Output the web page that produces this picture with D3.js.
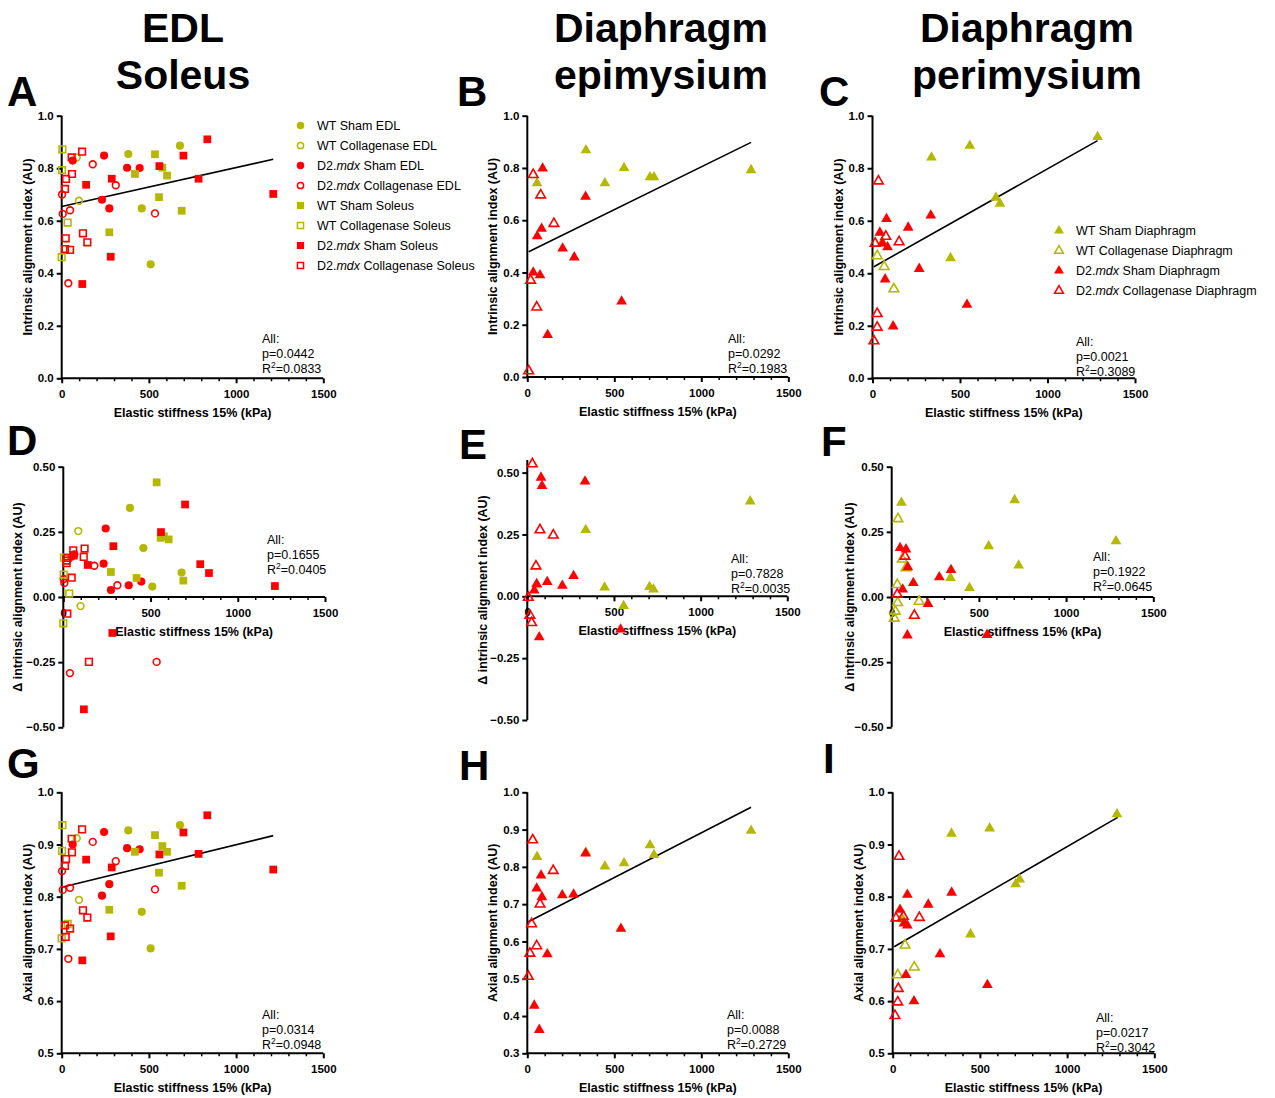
<!DOCTYPE html>
<html lang="en">
<head>
<meta charset="UTF-8">
<title>Elastic stiffness vs alignment</title>
<script src="https://cdn.jsdelivr.net/npm/d3@7.9.0/dist/d3.min.js"></script>
<style>
  html, body { margin: 0; padding: 0; background: #fff; }
  svg { display: block; font-family: Arial, "Liberation Sans", Helvetica, sans-serif; }
</style>
</head>
<body>
<svg id="chart" width="1275" height="1098"></svg>
<script>
// ---- data: [stiffness kPa, index] ----
// EDL / Soleus, intrinsic alignment (A)
const A_wtShamEDL = [[382,.854],[459,.647],[510,.434],[678,.886]];
const A_wtColEDL = [[86,.841],[99,.676]];
const A_mdxShamEDL = [[63,.829],[231,.680],[243,.848],[273,.647],[375,.802],[447,.801]];
const A_mdxColEDL = [[2,.700],[6,.626],[38,.362],[48,.640],[178,.815],[310,.735],[535,.628]];
const A_wtShamSol = [[273,.556],[420,.778],[535,.853],[558,.690],[577,.802],[604,.772],[688,.638]];
const A_wtColSol = [[0,.461],[2,.793],[4,.872],[34,.593]];
const A_mdxShamSol = [[118,.359],[140,.737],[281,.463],[287,.760],[560,.808],[698,.848],[785,.760],[835,.910],[1213,.702]];
const A_mdxColSol = [[19,.721],[19,.492],[23,.533],[25,.759],[48,.489],[57,.841],[59,.778],[117,.863],[122,.552],[147,.518]];
// delta intrinsic alignment (D)
const D_wtShamEDL = [[382,.342],[459,.188],[510,.04],[678,.094]];
const D_wtColEDL = [[86,.253],[99,-.035]];
const D_mdxShamEDL = [[63,.164],[231,.128],[243,.263],[273,.027],[375,.045],[447,.059]];
const D_mdxColEDL = [[2,.069],[6,.054],[38,-.292],[48,.155],[178,.120],[310,.045],[535,-.249]];
const D_wtShamSol = [[273,.096],[420,.073],[535,.44],[558,.227],[577,.233],[604,.221],[688,.063]];
const D_wtColSol = [[0,-.101],[2,.086],[4,.151],[34,.013]];
const D_mdxShamSol = [[118,-.431],[140,.123],[281,-.138],[287,.195],[560,.249],[698,.355],[785,.126],[835,.092],[1213,.042]];
const D_mdxColSol = [[19,.14],[19,.13],[23,-.064],[25,.15],[48,.074],[57,.179],[59,.16],[117,.154],[122,.186],[147,-.249]];
// axial alignment (G)
const G_wtShamEDL = [[382,.927],[459,.771],[510,.701],[678,.937]];
const G_wtColEDL = [[86,.912],[99,.794]];
const G_mdxShamEDL = [[63,.90],[231,.802],[243,.924],[273,.824],[375,.893],[447,.891]];
const G_mdxColEDL = [[2,.849],[6,.813],[38,.681],[48,.817],[178,.905],[310,.868],[535,.814]];
const G_wtShamSol = [[273,.775],[420,.886],[535,.918],[558,.846],[577,.897],[604,.886],[688,.821]];
const G_wtColSol = [[0,.72],[2,.888],[4,.937],[34,.748]];
const G_mdxShamSol = [[118,.678],[140,.871],[281,.724],[287,.856],[560,.881],[698,.923],[785,.882],[835,.956],[1213,.852]];
const G_mdxColSol = [[19,.859],[19,.745],[23,.723],[25,.872],[48,.739],[57,.911],[59,.885],[117,.929],[122,.774],[147,.760]];

// Diaphragm epimysium (B, E, H) and perimysium (C, F, I)
const B_wtSham = [[56,.742],[337,.868],[446,.742],[556,.80],[705,.765],[728,.765],[1286,.792]];
const B_mdxSham = [[34,.40],[57,.539],[73,.39],[82,.568],[88,.798],[117,.161],[203,.492],[270,.458],[335,.69],[542,.289]];
const B_mdxCol = [[8,.023],[19,.37],[34,.774],[54,.267],[77,.696],[153,.587]];
const C_wtSham = [[56,.518],[337,.841],[446,.458],[556,.886],[705,.688],[728,.665],[1286,.919]];
const C_wtCol = [[27,.466],[67,.425],[122,.340]];
const C_mdxSham = [[42,.555],[57,.514],[72,.377],[86,.499],[80,.607],[118,.198],[204,.574],[267,.417],[333,.62],[540,.28]];
const C_mdxCol = [[8,.142],[15,.514],[27,.246],[27,.194],[34,.751],[76,.540],[152,.519]];
const E_wtSham = [[56,.045],[337,.268],[446,.036],[556,-.039],[705,.038],[728,.028],[1286,.384]];
const E_mdxSham = [[40,.024],[54,.05],[69,-.165],[79,.48],[85,.446],[115,.058],[202,.043],[267,.082],[333,.464],[538,-.134]];
const E_mdxCol = [[6,-.005],[15,-.077],[25,-.107],[29,.535],[50,.122],[73,.268],[150,.247]];
const F_wtSham = [[56,.362],[337,.073],[446,.035],[556,.195],[705,.372],[728,.121],[1286,.214]];
const F_wtCol = [[15,-.082],[21,-.055],[32,.047],[34,-.022],[36,.30],[61,.145],[82,.112],[157,-.017]];
const F_mdxSham = [[48,.188],[63,.029],[82,.183],[90,-.147],[92,.115],[124,.054],[208,-.026],[273,.076],[340,.104],[547,-.145]];
const F_mdxCol = [[32,.010],[76,.156],[130,-.071]];
const H_wtSham = [[56,.827],[337,.839],[446,.801],[556,.810],[705,.858],[728,.832],[1286,.897]];
const H_mdxSham = [[40,.428],[54,.742],[69,.363],[79,.777],[84,.719],[115,.566],[201,.724],[266,.726],[335,.836],[538,.634]];
const H_mdxCol = [[6,.506],[15,.568],[25,.647],[31,.872],[54,.588],[73,.700],[149,.790]];
const I_wtSham = [[56,.757],[337,.921],[446,.728],[556,.931],[705,.824],[728,.833],[1286,.958]];
const I_wtCol = [[29,.650],[71,.707],[124,.665]];
const I_mdxSham = [[42,.775],[65,.749],[76,.65],[84,.804],[84,.745],[122,.60],[204,.785],[271,.69],[338,.808],[543,.631]];
const I_mdxCol = [[13,.572],[19,.759],[29,.598],[32,.624],[36,.877],[61,.762],[153,.760]];

// regression lines (end points)
const fitA = [[0,.654],[1213,.834]];
const fitB = [[8,.479],[1286,.898]];
const fitC = [[8,.425],[1286,.905]];
const fitG = [[0,.818],[1213,.917]];
const fitH = [[6,.653],[1286,.96]];
const fitI = [[8,.704],[1290,.952]];

// p and R2 per panel
const statsP = {A:'0.0442', B:'0.0292', C:'0.0021', D:'0.1655', E:'0.7828', F:'0.1922', G:'0.0314', H:'0.0088', I:'0.0217'};
const statsR2 = {A:'0.0833', B:'0.1983', C:'0.3089', D:'0.0405', E:'0.0035', F:'0.0645', G:'0.0948', H:'0.2729', I:'0.3042'};

const xMajor = [0, 500, 1000, 1500];
const xMinor = d3.range(100, 1500, 100).filter(v => v % 500 !== 0);
const ticksIntrinsic = [0, .2, .4, .6, .8, 1];
const ticksDelta = [-.5, -.25, 0, .25, .5];
const ticksAxialG = [.5, .6, .7, .8, .9, 1];
const ticksAxialH = [.3, .4, .5, .6, .7, .8, .9, 1];

const columnTitles = [['EDL', 'Soleus'], ['Diaphragm', 'epimysium'], ['Diaphragm', 'perimysium']];
const legendEDL = ['WT Sham EDL', 'WT Collagenase EDL', 'D2.mdx Sham EDL', 'D2.mdx Collagenase EDL',
  'WT Sham Soleus', 'WT Collagenase Soleus', 'D2.mdx Sham Soleus', 'D2.mdx Collagenase Soleus'];
const legendDia = ['WT Sham Diaphragm', 'WT Collagenase Diaphragm', 'D2.mdx Sham Diaphragm', 'D2.mdx Collagenase Diaphragm'];

// ---- styles ----
const OLIVE = '#b5b800';
const RED = '#ff0000';
const styles = {
  wtShamEDL:  {shape: d3.symbolCircle, fill: true, color: OLIVE},
  wtColEDL:   {shape: d3.symbolCircle, fill: false, color: OLIVE},
  mdxShamEDL: {shape: d3.symbolCircle, fill: true, color: RED},
  mdxColEDL:  {shape: d3.symbolCircle, fill: false, color: RED},
  wtShamSol:  {shape: d3.symbolSquare, fill: true, color: OLIVE},
  wtColSol:   {shape: d3.symbolSquare, fill: false, color: OLIVE},
  mdxShamSol: {shape: d3.symbolSquare, fill: true, color: RED},
  mdxColSol:  {shape: d3.symbolSquare, fill: false, color: RED},
  wtSham:     {shape: d3.symbolTriangle, fill: true, color: OLIVE},
  wtCol:      {shape: d3.symbolTriangle, fill: false, color: OLIVE},
  mdxSham:    {shape: d3.symbolTriangle, fill: true, color: RED},
  mdxCol:     {shape: d3.symbolTriangle, fill: false, color: RED}
};
const edlKeys = ['wtShamEDL','wtColEDL','mdxShamEDL','mdxColEDL','wtShamSol','wtColSol','mdxShamSol','mdxColSol'];
const diaKeys = ['wtSham','wtCol','mdxSham','mdxCol'];

const symbolSize = (st) => {
  if (st.shape === d3.symbolCircle) return st.fill ? 52 : 36;
  if (st.shape === d3.symbolSquare) return st.fill ? 60 : 44;
  return st.fill ? 50 : 40;
};

// ---- panel layout ----
const fmt1 = d3.format('.1f'), fmt2 = d3.format('.2f'), fmtX = d3.format('d');
const yIntr = 'Intrinsic alignment index (AU)';
const yDelta = '\u0394 intrinsic alignment index (AU)';
const yAxial = 'Axial alignment index (AU)';

const panels = [
  {key:'A', x0:61.7, x1:323.3, yTop:115.7, yBot:378.3, dom:[0,1], ticks:ticksIntrinsic, fmt:fmt1, ylab:yIntr, lab:34, lx:7, ly:106,
   series:[A_wtShamEDL,A_wtColEDL,A_mdxShamEDL,A_mdxColEDL,A_wtShamSol,A_wtColSol,A_mdxShamSol,A_mdxColSol], keys:edlKeys, fit:fitA, sx:262, sy:343},
  {key:'B', x0:527.3, x1:788.3, yTop:115.7, yBot:377, dom:[0,1], ticks:ticksIntrinsic, fmt:fmt1, ylab:yIntr, lab:34, lx:457, ly:106,
   series:[B_wtSham,null,B_mdxSham,B_mdxCol], keys:diaKeys, fit:fitB, sx:728, sy:343},
  {key:'C', x0:872.5, x1:1135, yTop:115.7, yBot:378.3, dom:[0,1], ticks:ticksIntrinsic, fmt:fmt1, ylab:yIntr, lab:34, lx:819, ly:106,
   series:[C_wtSham,C_wtCol,C_mdxSham,C_mdxCol], keys:diaKeys, fit:fitC, sx:1076, sy:346},
  {key:'D', x0:63.3, x1:325, yTop:466.7, yBot:727.3, dom:[-.5,.5], ticks:ticksDelta, fmt:fmt2, ylab:yDelta, lab:45, lx:7, ly:455,
   series:[D_wtShamEDL,D_wtColEDL,D_mdxShamEDL,D_mdxColEDL,D_wtShamSol,D_wtColSol,D_mdxShamSol,D_mdxColSol], keys:edlKeys, fit:null, sx:267, sy:544},
  {key:'E', x0:527.3, x1:787.3, yTop:460, yBot:720, dom:[-.5,.551], ticks:ticksDelta, fmt:fmt2, ylab:yDelta, lab:44, lx:459, ly:459,
   series:[E_wtSham,null,E_mdxSham,E_mdxCol], keys:diaKeys, fit:null, sx:731, sy:563},
  {key:'F', x0:891.7, x1:1153.3, yTop:466.7, yBot:727.3, dom:[-.5,.5], ticks:ticksDelta, fmt:fmt2, ylab:yDelta, lab:42, lx:821, ly:456,
   series:[F_wtSham,F_wtCol,F_mdxSham,F_mdxCol], keys:diaKeys, fit:null, sx:1093, sy:561},
  {key:'G', x0:61.7, x1:323.3, yTop:792.3, yBot:1053.3, dom:[.5,1], ticks:ticksAxialG, fmt:fmt1, ylab:yAxial, lab:34, lx:7, ly:778,
   series:[G_wtShamEDL,G_wtColEDL,G_mdxShamEDL,G_mdxColEDL,G_wtShamSol,G_wtColSol,G_mdxShamSol,G_mdxColSol], keys:edlKeys, fit:fitG, sx:262, sy:1019},
  {key:'H', x0:527.3, x1:788.3, yTop:792.3, yBot:1053.3, dom:[.3,1], ticks:ticksAxialH, fmt:fmt1, ylab:yAxial, lab:34, lx:459, ly:780,
   series:[H_wtSham,null,H_mdxSham,H_mdxCol], keys:diaKeys, fit:fitH, sx:727, sy:1019},
  {key:'I', x0:892.7, x1:1154.3, yTop:792.3, yBot:1053.3, dom:[.5,1], ticks:ticksAxialG, fmt:fmt1, ylab:yAxial, lab:34, lx:823, ly:773,
   series:[I_wtSham,I_wtCol,I_mdxSham,I_mdxCol], keys:diaKeys, fit:fitI, sx:1096, sy:1022}
];

const svg = d3.select('#chart');
svg.append('rect').attr('width', 1275).attr('height', 1098).attr('fill', '#fff');

// column titles
const titleX = [183, 661, 1027];
columnTitles.forEach((lines, i) => {
  lines.forEach((t, j) => {
    svg.append('text').attr('x', titleX[i]).attr('y', 42 + j * 47)
      .attr('text-anchor', 'middle').attr('font-size', 41).attr('font-weight', 'bold')
      .text(t);
  });
});

// label text with italic "mdx"
function richLabel(sel, label) {
  const parts = label.split('mdx');
  sel.append('tspan').text(parts[0]);
  if (parts.length > 1) {
    sel.append('tspan').attr('font-style', 'italic').text('mdx');
    sel.append('tspan').text(parts[1]);
  }
}

function styleAxis(g, w) {
  g.select('.domain').attr('stroke', '#000').attr('stroke-width', w);
  g.selectAll('.tick line').attr('stroke', '#000').attr('stroke-width', w);
  g.selectAll('.tick text').attr('fill', '#000').attr('font-size', 11.5).attr('font-weight', 'bold')
    .attr('font-family', 'Arial, "Liberation Sans", sans-serif');
}

panels.forEach(p => {
  const g = svg.append('g').attr('class', 'panel-' + p.key);
  const x = d3.scaleLinear().domain([0, 1500]).range([p.x0, p.x1]);
  const y = d3.scaleLinear().domain(p.dom).range([p.yBot, p.yTop]);
  const xAxisY = p.dom[0] < 0 ? y(0) : p.yBot;

  // panel letter
  svg.append('text').attr('x', p.lx).attr('y', p.ly).attr('font-size', 42)
    .attr('font-weight', 'bold').text(p.key);

  // y axis
  const ya = g.append('g').attr('transform', `translate(${p.x0},0)`)
    .call(d3.axisLeft(y).tickValues(p.ticks).tickFormat(p.fmt).tickSize(5).tickPadding(3).tickSizeOuter(0));
  styleAxis(ya, 2);
  ya.select('.domain').attr('d', `M0,${p.yBot}V${p.yTop}`);

  // x axis: minor then major ticks
  const xm = g.append('g').attr('transform', `translate(0,${xAxisY})`)
    .call(d3.axisBottom(x).tickValues(xMinor).tickFormat('').tickSize(3).tickSizeOuter(0));
  xm.select('.domain').remove();
  xm.selectAll('.tick line').attr('stroke', '#000').attr('stroke-width', 1.5);
  const xa = g.append('g').attr('transform', `translate(0,${xAxisY})`)
    .call(d3.axisBottom(x).tickValues(xMajor).tickFormat(fmtX).tickSize(5).tickPadding(7).tickSizeOuter(0));
  styleAxis(xa, 2);
  xa.select('.domain').attr('d', `M${p.x0 - 1},0H${p.x1}`);

  // axis titles
  g.append('text').attr('x', (p.x0 + p.x1) / 2).attr('y', xAxisY + 39)
    .attr('text-anchor', 'middle').attr('font-size', 12.5).attr('font-weight', 'bold')
    .text('Elastic stiffness 15% (kPa)');
  const yMid = (p.yTop + p.yBot) / 2;
  g.append('text').attr('transform', `translate(${p.x0 - p.lab + 4},${yMid}) rotate(-90)`)
    .attr('text-anchor', 'middle').attr('font-size', 12.5).attr('font-weight', 'bold')
    .text(p.ylab);

  // stats text
  const st = g.append('g').attr('font-size', 12.5);
  st.append('text').attr('x', p.sx).attr('y', p.sy).text('All:');
  st.append('text').attr('x', p.sx).attr('y', p.sy + 14.8).text('p=' + statsP[p.key]);
  const r = st.append('text').attr('x', p.sx).attr('y', p.sy + 29.6);
  r.append('tspan').text('R');
  r.append('tspan').attr('font-size', 8.5).attr('dy', -5).text('2');
  r.append('tspan').attr('dy', 5).text('=' + statsR2[p.key]);

  // regression line
  if (p.fit) {
    g.append('path').datum(p.fit)
      .attr('d', d3.line().x(d => x(d[0])).y(d => y(d[1])))
      .attr('fill', 'none').attr('stroke', '#000').attr('stroke-width', 1.6);
  }

  // points
  p.series.forEach((data, i) => {
    if (!data) return;
    const sty = styles[p.keys[i]];
    const sym = d3.symbol().type(sty.shape).size(symbolSize(sty));
    g.append('g').selectAll('path').data(data).join('path')
      .attr('transform', d => `translate(${x(d[0])},${y(d[1])})`)
      .attr('d', sym)
      .attr('fill', sty.fill ? sty.color : 'none')
      .attr('stroke', sty.color)
      .attr('stroke-width', sty.fill ? 0 : 1.6);
  });
});

// legends
function drawLegend(labels, keys, lx, ty, step, tx) {
  const lg = svg.append('g').attr('font-size', 12.5);
  labels.forEach((lab, i) => {
    const sty = styles[keys[i]];
    const yy = ty + i * step;
    lg.append('path')
      .attr('transform', `translate(${lx},${yy})`)
      .attr('d', d3.symbol().type(sty.shape).size(symbolSize(sty) * 0.85)())
      .attr('fill', sty.fill ? sty.color : 'none')
      .attr('stroke', sty.color).attr('stroke-width', sty.fill ? 0 : 1.5);
    const t = lg.append('text').attr('x', tx).attr('y', yy + 4.5);
    richLabel(t, lab);
  });
}
drawLegend(legendEDL, edlKeys, 300.5, 125.5, 20, 317);
drawLegend(legendDia, diaKeys, 1059, 230.7, 20, 1076);
</script>
</body>
</html>
